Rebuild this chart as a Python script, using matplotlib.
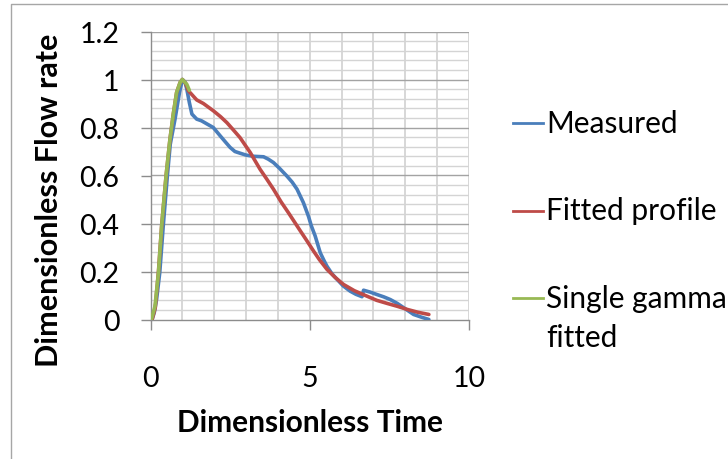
import matplotlib
matplotlib.use("Agg")
import matplotlib.pyplot as plt
from matplotlib.lines import Line2D
import numpy as np

plt.rcParams['font.family'] = ['Lato', 'DejaVu Sans']

# Data
measured_x = [0.05, 0.12, 0.19, 0.29, 0.40, 0.53, 0.62, 0.77, 0.91, 1.00, 1.08, 1.14, 1.22, 1.30,
              1.45, 1.60, 1.77, 1.97, 2.19, 2.35, 2.50, 2.65, 2.81, 3.00, 3.23, 3.55, 3.70, 3.86,
              4.05, 4.28, 4.45, 4.60, 4.70, 4.80, 4.96, 5.05, 5.17, 5.33, 5.45, 5.54, 5.70, 5.86,
              6.05, 6.27, 6.45, 6.64, 6.69, 6.90, 7.11, 7.33, 7.53, 7.75, 7.95, 8.26, 8.50, 8.74]
measured_y = [0.0, 0.03, 0.083, 0.195, 0.39, 0.60, 0.73, 0.835, 0.946, 1.0, 0.99, 0.96, 0.904, 0.856,
              0.835, 0.828, 0.815, 0.80, 0.765, 0.74, 0.717, 0.70, 0.693, 0.685, 0.68, 0.678, 0.668, 0.654,
              0.63, 0.598, 0.572, 0.543, 0.515, 0.487, 0.43, 0.39, 0.348, 0.278, 0.245, 0.222, 0.19, 0.167,
              0.14, 0.118, 0.105, 0.095, 0.122, 0.114, 0.104, 0.094, 0.083, 0.067, 0.049, 0.021, 0.01, 0.0]

fitted_x = [0.05, 0.15, 0.25, 0.35, 0.49, 0.61, 0.72, 0.82, 0.93, 1.00, 1.10, 1.19, 1.45, 1.66,
            1.97, 2.20, 2.40, 2.60, 2.81, 3.13, 3.44, 3.65, 3.86, 4.10, 4.33, 4.70, 4.90, 5.12,
            5.30, 5.54, 5.80, 6.06, 6.40, 6.80, 7.10, 7.43, 7.75, 8.06, 8.40, 8.74]
fitted_y = [0.0, 0.05, 0.20, 0.39, 0.60, 0.75, 0.86, 0.946, 0.988, 1.0, 0.985, 0.953, 0.915, 0.90,
            0.87, 0.845, 0.82, 0.79, 0.758, 0.696, 0.626, 0.585, 0.543, 0.49, 0.445, 0.37, 0.33, 0.285,
            0.25, 0.209, 0.175, 0.146, 0.12, 0.097, 0.08, 0.067, 0.055, 0.042, 0.03, 0.021]

gamma_x = [0.03, 0.14, 0.25, 0.35, 0.49, 0.61, 0.72, 0.82, 0.93, 1.00, 1.14, 1.22]
gamma_y = [0.0, 0.055, 0.195, 0.39, 0.60, 0.75, 0.86, 0.946, 0.988, 1.0, 0.98, 0.955]

series_names = ["Measured", "Fitted profile", "Single gamma\nfitted"]
colors = ["#4A7EBB", "#BE4B48", "#98B954"]

x_ticks = [0, 5, 10]
y_ticks = [0, 0.2, 0.4, 0.6, 0.8, 1.0, 1.2]
y_ticklabels = ["0", "0.2", "0.4", "0.6", "0.8", "1", "1.2"]

W, H = 728, 460
fig = plt.figure(figsize=(W / 100, H / 100), dpi=100)

def fx(px):
    return px / W

def fy(py):
    return 1 - py / H

left, right, top, bottom = 150.5, 469.0, 32.5, 320.5
ax = fig.add_axes([fx(left), fy(bottom), fx(right) - fx(left), fy(top) - fy(bottom)])
ax.set_xlim(0, 10)
ax.set_ylim(0, 1.2)

# gridlines
for v in np.arange(1, 10.5, 1):
    ax.axvline(v, color="#D4D4D4", lw=1.3, zorder=0)
for h in np.arange(0.04, 1.2001, 0.04):
    if abs(h / 0.2 - round(h / 0.2)) < 1e-6:
        ax.axhline(h, color="#A3A3A3", lw=1.0, zorder=0.5)
    else:
        ax.axhline(h, color="#D4D4D4", lw=1.0, zorder=0)

lw = 2.6
ax.plot(measured_x, measured_y, color=colors[0], lw=lw, solid_capstyle='round', solid_joinstyle='round', zorder=3)
ax.plot(fitted_x, fitted_y, color=colors[1], lw=lw, solid_capstyle='round', solid_joinstyle='round', zorder=4)
ax.plot(gamma_x, gamma_y, color=colors[2], lw=lw, solid_capstyle='round', solid_joinstyle='round', zorder=5)

for s in ["top", "right"]:
    ax.spines[s].set_visible(False)
for s in ["left", "bottom"]:
    ax.spines[s].set_color("#8C8C8C")
    ax.spines[s].set_linewidth(1.0)

ax.set_xticks(x_ticks)
ax.set_xticklabels([str(t) for t in x_ticks])
ax.set_yticks(y_ticks)
ax.set_yticklabels(y_ticklabels)
ax.tick_params(axis="both", direction="out", length=7.5, width=1.0, color="#8C8C8C",
               labelsize=20.5, labelcolor="black")
ax.tick_params(axis="y", pad=15)
ax.tick_params(axis="x", pad=25)
ax.set_facecolor("white")

# axis titles
fig.text(fx(310), fy(423), "Dimensionless Time", ha="center", va="center",
         fontsize=21.5, fontweight="bold")
fig.text(fx(49), fy(200), "Dimensionless Flow rate", ha="center", va="center",
         rotation=90, fontsize=22, fontweight="bold")

# legend
handle_y = [124, 211.7, 299]
text_base = [133.3, 220, 308]
for c, name, hy, tb in zip(colors, series_names, handle_y, text_base):
    fig.add_artist(Line2D([fx(513), fx(543)], [fy(hy), fy(hy)], color=c, lw=2.0,
                          transform=fig.transFigure))
    lines = name.split("\n")
    for i, ln in enumerate(lines):
        fig.text(fx(546), fy(tb + i * 39), ln, ha="left", va="baseline", fontsize=21.5)

# chart border
fig.add_artist(Line2D([fx(11), fx(11), fx(W + 5)], [fy(H + 5), fy(5.3), fy(5.3)],
                      color="#A6A6A6", lw=1.0, transform=fig.transFigure))

fig.savefig("out.png", dpi=100)
